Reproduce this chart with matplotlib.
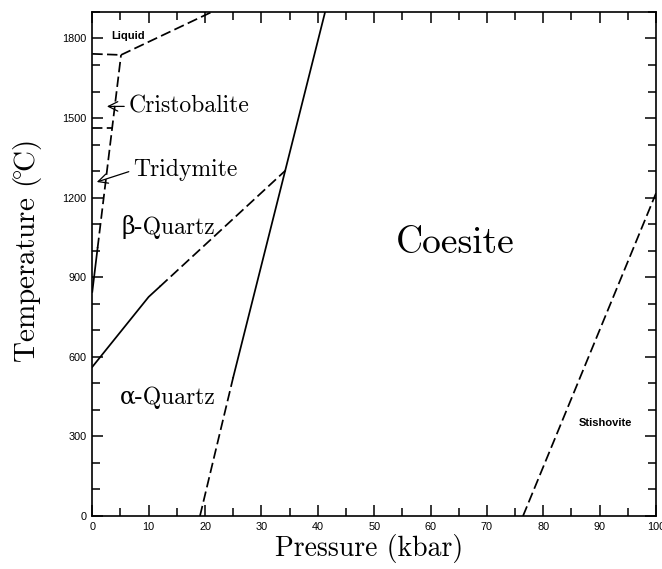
import matplotlib.pyplot as plt
from matplotlib.ticker import MultipleLocator

plt.rcParams['mathtext.fontset'] = 'cm'

# phase boundaries, (pressure kbar, temperature C)
qz_coe_dash_P = [19.1, 25.0]
qz_coe_dash_T = [0, 523]
qz_coe_solid_P = [25.0, 41.3]
qz_coe_solid_T = [523, 1900]

ab_solid_P = [0, 10, 12]
ab_solid_T = [562, 826, 865]
ab_dash_P = [12, 34.3]
ab_dash_T = [865, 1303]

qz_trd_solid_P = [0, 0.94]
qz_trd_solid_T = [845, 1010]
qz_trd_dash_P = [0.94, 5.1]
qz_trd_dash_T = [1010, 1738]

crs_liq_P = [0, 5.1]
crs_liq_T = [1742, 1738]
trd_crs_P = [0, 3.5]
trd_crs_T = [1462, 1462]
liq_coe_P = [5.1, 21.2]
liq_coe_T = [1738, 1900]

coe_sti_P = [76.4, 100]
coe_sti_T = [0, 1217]

serif = ['cmr10', 'DejaVu Serif']

fig = plt.figure(figsize=(6.62, 5.69), dpi=100)
ax = fig.add_axes([0.1394, 0.0931, 0.8516, 0.8859])

lw = 1.25
dash = (6, 2.5)
ax.plot(qz_coe_solid_P, qz_coe_solid_T, color='black', lw=lw)
ax.plot(ab_solid_P, ab_solid_T, color='black', lw=lw)
ax.plot(qz_trd_solid_P, qz_trd_solid_T, color='black', lw=lw)
for P, T in [(qz_coe_dash_P, qz_coe_dash_T), (ab_dash_P, ab_dash_T),
             (qz_trd_dash_P, qz_trd_dash_T), (crs_liq_P, crs_liq_T),
             (trd_crs_P, trd_crs_T), (liq_coe_P, liq_coe_T),
             (coe_sti_P, coe_sti_T)]:
    ax.plot(P, T, color='black', lw=lw, dashes=dash)

ax.text(3.45, 1811, 'Liquid', fontsize=8, fontweight='bold',
        family='Liberation Sans', ha='left', va='center')
ax.text(91.1, 349, 'Stishovite', fontsize=8, fontweight='bold',
        family='Liberation Sans', ha='center', va='center')
ax.text(64.4, 1028, 'Coesite', fontsize=27, family=serif,
        ha='center', va='center')
ax.text(5.2, 1089, 'β-Quartz', fontsize=17, family=serif,
        ha='left', va='center')
ax.text(4.9, 444, 'α-Quartz', fontsize=17, family=serif,
        ha='left', va='center')
ax.annotate('Cristobalite', xy=(2.6, 1544), xytext=(6.4, 1544),
            fontsize=17, family=serif, ha='left', va='center',
            arrowprops=dict(arrowstyle='->', lw=0.9, color='black',
                            relpos=(0, 0.5), shrinkA=1, shrinkB=0))
ax.annotate('Tridymite', xy=(0.8, 1259), xytext=(7.2, 1303),
            fontsize=17, family=serif, ha='left', va='center',
            arrowprops=dict(arrowstyle='->', lw=0.9, color='black',
                            relpos=(0, 0.5), shrinkA=1, shrinkB=0))

ax.set_xlim(0, 100)
ax.set_ylim(0, 1900)
ax.xaxis.set_major_locator(MultipleLocator(10))
ax.xaxis.set_minor_locator(MultipleLocator(5))
ax.yaxis.set_major_locator(MultipleLocator(300))
ax.yaxis.set_minor_locator(MultipleLocator(100))
ax.tick_params(which='both', direction='in', top=True, right=True,
               width=1.1, pad=4)
ax.tick_params(which='major', length=8)
ax.tick_params(which='minor', length=6)
for lab in ax.get_xticklabels() + ax.get_yticklabels():
    lab.set_family('Liberation Sans')
    lab.set_fontsize(7.8)
for s in ax.spines.values():
    s.set_linewidth(1.2)

ax.set_xlabel('Pressure (kbar)', fontsize=20, family=serif)
ax.set_ylabel(r'Temperature ($\!^{\circ}\!$C)', fontsize=21, family=serif)
ax.xaxis.set_label_coords(0.491, -0.036)
ax.yaxis.set_label_coords(-0.085, 0.525)

fig.savefig('out.png', dpi=100)
